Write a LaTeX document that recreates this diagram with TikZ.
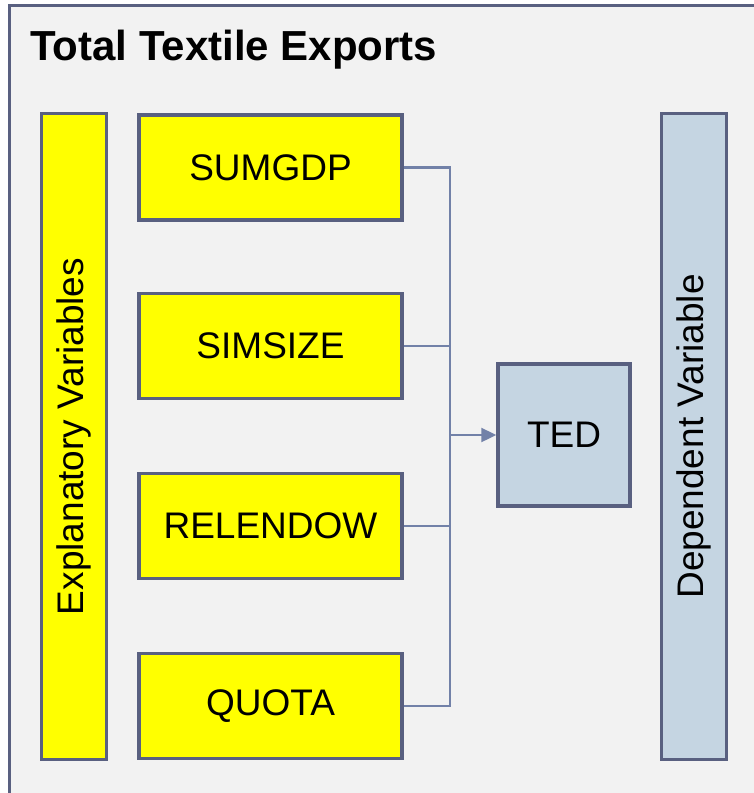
\documentclass[tikz,border=0pt]{standalone}
\usepackage{fontspec}
\setmainfont{Liberation Sans}
\usetikzlibrary{arrows.meta}
\definecolor{bordc}{HTML}{596080}
\definecolor{linec}{HTML}{7281A8}
\definecolor{bgc}{HTML}{F2F2F2}
\definecolor{yel}{HTML}{FFFF00}
\definecolor{blu}{HTML}{C5D5E2}
\begin{document}
\begin{tikzpicture}[x=1pt,y=-1pt,
  varbox/.style={draw=bordc,line width=3.5pt,fill=yel,minimum width=263pt,minimum height=105pt,inner sep=0pt,font=\fontsize{37}{40}\selectfont},
  bar/.style={draw=bordc,line width=3.5pt,minimum width=65pt,minimum height=646pt,inner sep=0pt,font=\fontsize{37}{40}\selectfont},
  conn/.style={draw=linec,line width=2.4pt},
]
\useasboundingbox (0,0) rectangle (753,793);
\fill[white] (0,0) rectangle (753,793);
\draw[bordc,line width=3.5pt,fill=bgc] (9.5,5.5) rectangle (820,860);
\node[anchor=base west,font=\bfseries\fontsize{42}{46}\selectfont,inner sep=0pt] (title) at (30,60) {Total Textile Exports};
\node[bar,fill=yel] (expl) at (74,436.5) {};
\node[rotate=90,font=\fontsize{37}{40}\selectfont] (explt) at (expl.center) {Explanatory Variables};
\node[bar,fill=blu] (dep) at (694,436.5) {};
\node[rotate=90,font=\fontsize{37}{40}\selectfont] (dept) at (dep.center) {Dependent Variable};
\node[varbox] (b1) at (270.5,167.5) {SUMGDP};
\node[varbox] (b2) at (270.5,346) {SIMSIZE};
\node[varbox] (b3) at (270.5,526) {RELENDOW};
\node[varbox] (b4) at (270.5,706) {QUOTA};
\node[draw=bordc,line width=3.5pt,fill=blu,minimum width=132pt,minimum height=142pt,inner sep=0pt,font=\fontsize{37}{40}\selectfont] (ted) at (564,435) {TED};
\coordinate (j1) at (450,167.5);
\coordinate (j4) at (450,706);
\coordinate (jm) at (450,435);
\draw[conn] (b1.east) -- (j1) -- (j4) -- (b4.east);
\draw[conn] (b2.east) -- (b2.east -| jm);
\draw[conn] (b3.east) -- (b3.east -| jm);
\draw[conn,-{Triangle[length=15pt,width=14pt]}] (jm) -- (ted.west);
\end{tikzpicture}
\end{document}
